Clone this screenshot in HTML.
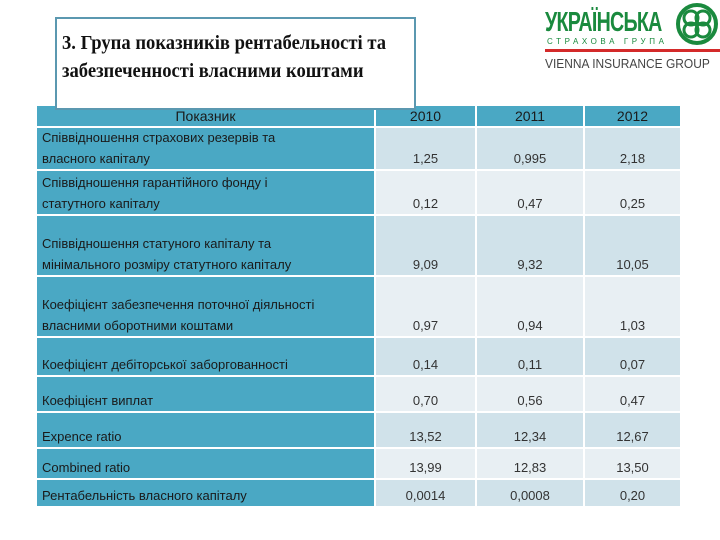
<!DOCTYPE html>
<html><head><meta charset="utf-8">
<style>
body{margin:0;width:720px;height:540px;background:#fff;position:relative;overflow:hidden;font-family:"Liberation Sans","DejaVu Sans",sans-serif}
.c{position:absolute;box-sizing:border-box;display:flex;align-items:flex-end;font-size:13px;color:#1a1a1a;padding-bottom:0;line-height:21px}
.l{background:#4aa8c4;padding-left:5px;border-bottom:2px solid #fff}
.v{justify-content:center;border-left:2px solid #fff;border-bottom:2px solid #fff;color:#333;line-height:20px}
.h{background:#4aa8c4;justify-content:center;align-items:center;padding:0;border-bottom:2px solid #fff;font-size:14px;color:#1a1a1a}
</style></head><body>
<div id="tbl"></div>
<div style="position:absolute;left:55px;top:17px;width:361px;height:93px;box-sizing:border-box;background:#fff;border:2px solid #5b98b0;font-family:'Liberation Serif',serif;font-weight:bold;font-size:20px;line-height:28px;padding:10px 0 0 5px;color:#111;z-index:2;white-space:nowrap"><div style="transform:scaleX(0.93);transform-origin:left">3. Група показників рентабельності та<br>забезпеченності власними коштами</div></div>
<div style="position:absolute;left:545px;top:4px;width:175px;height:70px">
 <div style="position:absolute;left:0;top:2px;font-weight:bold;font-size:28px;color:#1a8a3e;letter-spacing:-1px;transform:scaleX(0.70);transform-origin:left;white-space:nowrap">УКРАЇНСЬКА</div>
 <svg style="position:absolute;left:130px;top:-2px" width="44" height="44" viewBox="0 0 44 44"><circle cx="22" cy="22" r="19" fill="none" stroke="#1a8a3e" stroke-width="4"/><circle cx="16" cy="16" r="7" fill="none" stroke="#1a8a3e" stroke-width="3"/><circle cx="28" cy="16" r="7" fill="none" stroke="#1a8a3e" stroke-width="3"/><circle cx="16" cy="28" r="7" fill="none" stroke="#1a8a3e" stroke-width="3"/><circle cx="28" cy="28" r="7" fill="none" stroke="#1a8a3e" stroke-width="3"/></svg>
 <div style="position:absolute;left:2px;top:33px;font-size:8px;letter-spacing:3.6px;color:#1a8a3e">СТРАХОВА ГРУПА</div>
 <div style="position:absolute;left:0;top:45px;width:175px;height:3px;background:#d42a2a"></div>
 <div style="position:absolute;left:0;top:52px;font-size:13px;color:#444;white-space:nowrap;transform:scaleX(0.92);transform-origin:left">VIENNA INSURANCE GROUP</div>
</div>
<script>
const colX=[37,374,475,583,680];
const rowY=[106,128,171,216,277,338,377,413,449,480,508];
const years=['2010','2011','2012'];
const labels=['Співвідношення страхових резервів та<br>власного капіталу','Співвідношення гарантійного фонду і<br>статутного капіталу','Співвідношення статуного капіталу та<br>мінімального розміру статутного капіталу','Коефіцієнт забезпечення поточної діяльності<br>власними оборотними коштами','Коефіцієнт дебіторської заборгованності','Коефіцієнт виплат','Expence ratio','Combined ratio','Рентабельність власного капіталу'];
const v2010=['1,25','0,12','9,09','0,97','0,14','0,70','13,52','13,99','0,0014'];
const v2011=['0,995','0,47','9,32','0,94','0,11','0,56','12,34','12,83','0,0008'];
const v2012=['2,18','0,25','10,05','1,03','0,07','0,47','12,67','13,50','0,20'];
const T=document.getElementById('tbl');
function cell(cls,x,y,w,h,html,bg){const d=document.createElement('div');d.className='c '+cls;d.style.cssText+=`left:${x}px;top:${y}px;width:${w}px;height:${h}px;`+(bg?`background:${bg};`:'');d.innerHTML=html;T.appendChild(d);return d;}
let hd=cell('h',colX[0],rowY[0],colX[1]-colX[0],rowY[1]-rowY[0],'Показник');


years.forEach((y,i)=>{const d=cell('h v',colX[i+1],rowY[0],colX[i+2]-colX[i+1],rowY[1]-rowY[0],y);

});
const vals=[v2010,v2011,v2012];
labels.forEach((lb,r)=>{const y=rowY[r+1],h=rowY[r+2]-y;const bg=r%2==0?'#d0e2ea':'#e8eff3';
const d=cell('l',colX[0],y,colX[1]-colX[0],h,'<span>'+lb+'</span>');


vals.forEach((a,i)=>{const e=cell('v',colX[i+1],y,colX[i+2]-colX[i+1],h,a[r],bg);

});});
</script>
</body></html>
